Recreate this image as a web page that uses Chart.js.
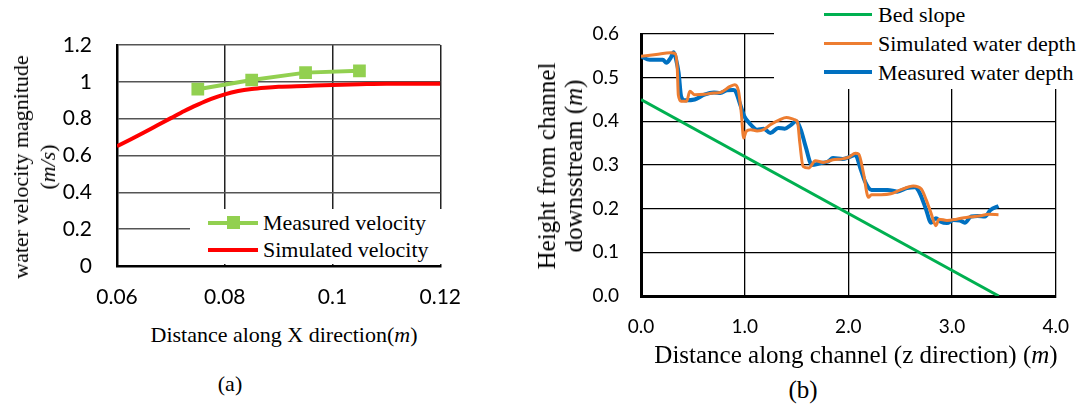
<!DOCTYPE html>
<html>
<head>
<meta charset="utf-8">
<script src="https://cdn.jsdelivr.net/npm/chart.js@4.4.0/dist/chart.umd.min.js"></script>
<style>
  body { margin: 0; width: 1088px; height: 408px; background: #fff; position: relative; overflow: hidden; }
  .box { position: absolute; }
  .serif { font-family: "Liberation Serif", "Times New Roman", serif; color: #000; }
  .ytitle { position: absolute; transform: translate(-50%, -50%) rotate(-90deg); white-space: nowrap; text-align: center; }
  .legend { position: absolute; background: #fff; z-index: 2; }
  .row { position: absolute; left: 0; white-space: nowrap; }
  .swatch { position: absolute; }
</style>
</head>
<body>

<div class="box" style="left:0;top:0;width:480px;height:320px;"><canvas id="chartA" width="480" height="320"></canvas></div>
<div class="box" style="left:560px;top:0;width:528px;height:350px;"><canvas id="chartB" width="528" height="350"></canvas></div>

<!-- chart (a) texts -->
<div class="ytitle serif" style="left:34px;top:167px;font-size:22px;line-height:27px;">water velocity magnitude<br>(<i>m/s</i>)</div>
<div class="serif" style="position:absolute;left:284px;top:335px;transform:translate(-50%,-50%);font-size:22px;white-space:nowrap;">Distance along X direction(<i>m</i>)</div>
<div class="serif" style="position:absolute;left:230px;top:384px;transform:translate(-50%,-50%);font-size:22px;">(a)</div>
<div class="legend serif" style="left:190px;top:209px;width:260px;height:55px;font-size:22px;">
  <div class="row" style="top:0;height:27px;width:260px;">
    <div class="swatch" style="left:18px;top:12px;width:50px;height:4px;background:#92D050;"></div>
    <div class="swatch" style="left:37px;top:7px;width:13px;height:13px;background:#92D050;"></div>
    <span style="position:absolute;left:73px;top:0;line-height:27px;">Measured velocity</span>
  </div>
  <div class="row" style="top:27px;height:27px;width:260px;">
    <div class="swatch" style="left:18px;top:12px;width:50px;height:4px;background:#FF0000;"></div>
    <span style="position:absolute;left:73px;top:0;line-height:27px;">Simulated velocity</span>
  </div>
</div>

<!-- chart (b) texts -->
<div class="ytitle serif" style="left:560px;top:166px;font-size:25px;line-height:27px;">Height from channel<br>downsstream (<i>m</i>)</div>
<div class="serif" style="position:absolute;left:856px;top:355px;transform:translate(-50%,-50%);font-size:25px;white-space:nowrap;">Distance along channel (z direction) (<i>m</i>)</div>
<div class="serif" style="position:absolute;left:803px;top:390px;transform:translate(-50%,-50%);font-size:25px;">(b)</div>
<div class="legend serif" style="left:774px;top:0;width:314px;height:89px;font-size:22px;">
  <div class="row" style="top:0;height:29px;width:314px;">
    <div class="swatch" style="left:50px;top:13px;width:48px;height:3px;background:#00B050;"></div>
    <span style="position:absolute;left:104px;top:0;line-height:29px;">Bed slope</span>
  </div>
  <div class="row" style="top:29px;height:29px;width:314px;">
    <div class="swatch" style="left:50px;top:13px;width:48px;height:3px;background:#ED7D31;"></div>
    <span style="position:absolute;left:104px;top:0;line-height:29px;">Simulated water depth</span>
  </div>
  <div class="row" style="top:58px;height:29px;width:314px;">
    <div class="swatch" style="left:50px;top:12px;width:48px;height:4px;background:#0070C0;"></div>
    <span style="position:absolute;left:104px;top:0;line-height:29px;">Measured water depth</span>
  </div>
</div>

<script>
// (a) velocity along X
const simVelX = [0.06, 0.0625, 0.065, 0.0675, 0.07, 0.0725, 0.075, 0.0775, 0.08, 0.0825, 0.085, 0.0875, 0.09, 0.095, 0.1, 0.105, 0.11, 0.12];
const simVel  = [0.65, 0.687, 0.725, 0.764, 0.803, 0.842, 0.876, 0.907, 0.932, 0.95, 0.961, 0.968, 0.973, 0.978, 0.983, 0.987, 0.99, 0.99];
const measVelX = [0.075, 0.085, 0.095, 0.105];
const measVel  = [0.96, 1.01, 1.05, 1.06];
const xTicksA = [0.06, 0.08, 0.1, 0.12];
const xLabelsA = ['0.06', '0.08', '0.1', '0.12'];
const yTicksA = [0, 0.2, 0.4, 0.6, 0.8, 1, 1.2];
const yLabelsA = ['0', '0.2', '0.4', '0.6', '0.8', '1', '1.2'];

// (b) water depth along channel
const bedX = [0, 3.45];
const bedY = [0.45, 0];
const simDepthX = [0, 0.146, 0.285, 0.33, 0.35, 0.36, 0.387, 0.44, 0.471, 0.518, 0.611, 0.704, 0.766, 0.859, 0.905, 0.94, 0.967, 0.99, 1.014, 1.06, 1.12, 1.184, 1.247, 1.34, 1.402, 1.479, 1.51, 1.532, 1.563, 1.619, 1.681, 1.758, 1.851, 1.944, 2.006, 2.068, 2.1, 2.146, 2.193, 2.223, 2.316, 2.409, 2.502, 2.626, 2.704, 2.751, 2.797, 2.844, 2.874, 2.951, 3.045, 3.138, 3.262, 3.355, 3.448];
const simDepth  = [0.549, 0.553, 0.557, 0.555, 0.52, 0.46, 0.446, 0.446, 0.469, 0.461, 0.462, 0.465, 0.466, 0.48, 0.484, 0.47, 0.42, 0.362, 0.377, 0.381, 0.378, 0.381, 0.392, 0.404, 0.409, 0.404, 0.398, 0.35, 0.297, 0.293, 0.31, 0.306, 0.312, 0.314, 0.318, 0.327, 0.325, 0.281, 0.226, 0.232, 0.232, 0.234, 0.243, 0.252, 0.245, 0.22, 0.19, 0.161, 0.176, 0.173, 0.176, 0.18, 0.183, 0.187, 0.186];
const measDepthX = [0, 0.084, 0.21, 0.245, 0.285, 0.316, 0.34, 0.363, 0.387, 0.425, 0.518, 0.611, 0.704, 0.766, 0.828, 0.89, 0.912, 0.952, 0.998, 1.045, 1.12, 1.184, 1.247, 1.324, 1.386, 1.448, 1.495, 1.541, 1.588, 1.649, 1.727, 1.805, 1.851, 1.944, 2.006, 2.068, 2.115, 2.161, 2.223, 2.286, 2.379, 2.472, 2.565, 2.642, 2.688, 2.751, 2.797, 2.844, 2.89, 2.951, 3.014, 3.076, 3.123, 3.184, 3.246, 3.318, 3.371, 3.448];
const measDepth  = [0.549, 0.541, 0.541, 0.534, 0.545, 0.558, 0.54, 0.511, 0.457, 0.448, 0.45, 0.461, 0.466, 0.465, 0.471, 0.472, 0.469, 0.442, 0.411, 0.396, 0.381, 0.383, 0.373, 0.385, 0.383, 0.392, 0.4, 0.381, 0.342, 0.3, 0.304, 0.308, 0.316, 0.314, 0.318, 0.323, 0.293, 0.262, 0.243, 0.243, 0.243, 0.239, 0.247, 0.249, 0.236, 0.197, 0.168, 0.178, 0.17, 0.167, 0.174, 0.173, 0.168, 0.182, 0.183, 0.182, 0.197, 0.206];
const xTicksB = [0, 1, 2, 3, 4];
const xLabelsB = ['0.0', '1.0', '2.0', '3.0', '4.0'];
const yTicksB = [0, 0.1, 0.2, 0.3, 0.4, 0.5, 0.6];
const yLabelsB = ['0.0', '0.1', '0.2', '0.3', '0.4', '0.5', '0.6'];

function pts(xs, ys) {
    return xs.map((x, i) => ({ x: x, y: ys[i] }));
}

function axis(min, max, values, labels, opts) {
    return {
        type: 'linear',
        min: min,
        max: max,
        afterBuildTicks: s => { s.ticks = values.map(v => ({ value: v })); },
        afterFit: opts.fit,
        ticks: {
            callback: (v, i) => labels[i],
            padding: opts.pad,
            color: '#000',
            font: { family: 'Lato', size: opts.fontSize }
        },
        grid: { color: opts.gridColor, lineWidth: opts.gridWidth, drawTicks: false },
        border: { color: '#000', width: opts.borderWidth }
    };
}

Chart.defaults.font.family = 'Lato';

new Chart(document.getElementById('chartA').getContext('2d'), {
    type: 'scatter',
    data: {
        datasets: [{
            label: 'Measured velocity',
            data: pts(measVelX, measVel),
            showLine: true,
            borderColor: '#92D050',
            backgroundColor: '#92D050',
            borderWidth: 4,
            pointStyle: 'rect',
            pointRadius: 9,
            pointBorderWidth: 0
        }, {
            label: 'Simulated velocity',
            data: pts(simVelX, simVel),
            showLine: true,
            borderColor: '#FF0000',
            borderWidth: 4,
            pointRadius: 0,
            cubicInterpolationMode: 'monotone'
        }]
    },
    options: {
        responsive: false,
        animation: false,
        layout: { autoPadding: false, padding: { left: 57, top: 45, right: 28, bottom: 0 } },
        plugins: { legend: { display: false }, tooltip: { enabled: false } },
        scales: {
            x: axis(0.06, 0.12, xTicksA, xLabelsA, {
                fit: s => { s.height = 54; }, pad: 19, fontSize: 21,
                gridColor: '#222', gridWidth: 1.5, borderWidth: 2.5
            }),
            y: axis(0, 1.2, yTicksA, yLabelsA, {
                fit: s => { s.width = 60; }, pad: 25, fontSize: 21,
                gridColor: '#555', gridWidth: 1.5, borderWidth: 2.5
            })
        }
    }
});

new Chart(document.getElementById('chartB').getContext('2d'), {
    type: 'scatter',
    data: {
        datasets: [{
            label: 'Bed slope',
            data: pts(bedX, bedY),
            showLine: true,
            borderColor: '#00B050',
            borderWidth: 3,
            pointRadius: 0
        }, {
            label: 'Simulated water depth',
            data: pts(simDepthX, simDepth),
            showLine: true,
            borderColor: '#ED7D31',
            borderWidth: 3,
            pointRadius: 0,
            cubicInterpolationMode: 'monotone'
        }, {
            label: 'Measured water depth',
            data: pts(measDepthX, measDepth),
            showLine: true,
            borderColor: '#0070C0',
            borderWidth: 4,
            pointRadius: 0,
            cubicInterpolationMode: 'monotone'
        }]
    },
    options: {
        responsive: false,
        animation: false,
        layout: { autoPadding: false, padding: { left: 31, top: 34, right: 17, bottom: 0 } },
        plugins: { legend: { display: false }, tooltip: { enabled: false } },
        scales: {
            x: axis(0, 4, xTicksB, xLabelsB, {
                fit: s => { s.height = 54; }, pad: 19, fontSize: 19,
                gridColor: '#000', gridWidth: 1.3, borderWidth: 3
            }),
            y: axis(0, 0.6, yTicksB, yLabelsB, {
                fit: s => { s.width = 50; }, pad: 22, fontSize: 19,
                gridColor: '#000', gridWidth: 1.3, borderWidth: 3
            })
        }
    }
});
</script>
</body>
</html>
